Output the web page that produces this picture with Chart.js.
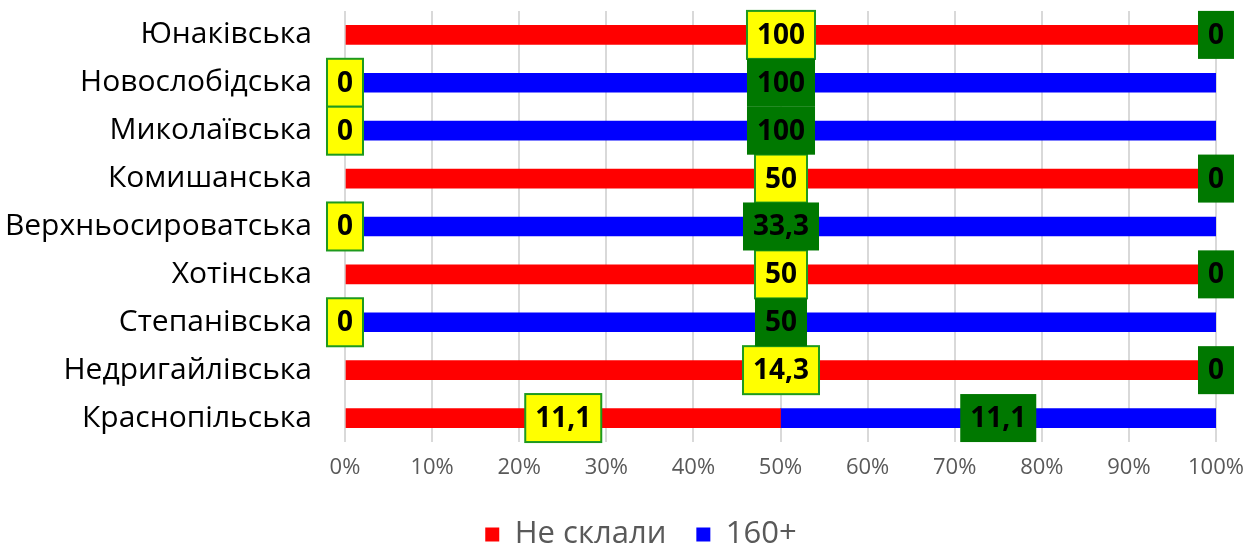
<!DOCTYPE html>
<html>
<head>
<meta charset="utf-8">
<script src="https://cdn.jsdelivr.net/npm/chart.js@4"></script>
<style>
  html, body { margin: 0; padding: 0; background: #fff; }
  #wrap { width: 1248px; height: 546px; }
</style>
</head>
<body>
<div id="wrap"><canvas id="myChart" width="1248" height="546"></canvas></div>
<script>
const categories = ["Юнаківська", "Новослобідська", "Миколаївська", "Комишанська", "Верхньосироватська", "Хотінська", "Степанівська", "Недригайлівська", "Краснопільська"];
const failedValues = [100, 0, 0, 50, 0, 50, 0, 14.3, 11.1];
const topValues = [0, 100, 100, 0, 33.3, 0, 50, 0, 11.1];
const tickLabels = ["0%", "10%", "20%", "30%", "40%", "50%", "60%", "70%", "80%", "90%", "100%"];

// 100% stacked: each row is split by its share of the row total
const share = (arr, i) => {
  const total = failedValues[i] + topValues[i];
  return total ? arr[i] / total * 100 : 0;
};
const rawSeries = [failedValues, topValues];

// value boxes: yellow for "Не склали", green for "160+"
const labelBoxes = {
  id: "labelBoxes",
  afterDatasetsDraw(chart) {
    const ctx = chart.ctx;
    ctx.save();
    ctx.font = "bold 28px 'Open Sans'";
    ctx.textAlign = "center";
    ctx.textBaseline = "middle";
    [0, 1].forEach(d => {
      const meta = chart.getDatasetMeta(d);
      meta.data.forEach((bar, i) => {
        const txt = String(rawSeries[d][i]).replace(".", ",");
        const cx = (bar.x + bar.base) / 2;
        const cy = bar.y;
        const w = ctx.measureText(txt).width + 20;
        const h = 48;
        if (d === 0) {
          ctx.fillStyle = "#ffff00";
          ctx.fillRect(cx - w / 2, cy - h / 2, w, h);
          ctx.strokeStyle = "#1e9a1e";
          ctx.lineWidth = 2;
          ctx.strokeRect(cx - w / 2, cy - h / 2, w, h);
        } else {
          ctx.fillStyle = "#007800";
          ctx.fillRect(cx - w / 2, cy - h / 2, w, h);
        }
        ctx.fillStyle = "#000";
        ctx.fillText(txt, cx, cy + 1);
      });
    });
    ctx.restore();
  }
};

// legend sits a bit right of the canvas centre
const legendShift = {
  id: "legendShift",
  afterLayout(chart) {
    chart.legend.left += 33;
    chart.legend.right += 33;
  }
};

new Chart("myChart", {
  type: "bar",
  data: {
    labels: categories,
    datasets: [{
      label: "Не склали",
      data: failedValues.map((v, i) => share(failedValues, i)),
      backgroundColor: "#ff0000",
      barThickness: 19
    }, {
      label: "160+",
      data: topValues.map((v, i) => share(topValues, i)),
      backgroundColor: "#0000ff",
      barThickness: 19
    }]
  },
  options: {
    indexAxis: "y",
    responsive: false,
    animation: false,
    layout: { padding: { top: 0, right: 32, left: 0, bottom: -14 } },
    plugins: {
      legend: {
        position: "bottom",
        labels: {
          boxWidth: 14,
          boxHeight: 14,
          padding: 30,
          color: "#595959",
          font: { family: "'Open Sans'", size: 31 }
        }
      },
      tooltip: { enabled: false }
    },
    scales: {
      x: {
        stacked: true,
        min: 0,
        max: 100,
        afterFit: s => { s.height = 47; s.paddingRight = 0; s.paddingLeft = 0; },
        grid: { color: "#d9d9d9", lineWidth: 2, drawTicks: false },
        border: { display: false },
        ticks: {
          stepSize: 10,
          padding: 13,
          color: "#595959",
          font: { family: "'Open Sans'", size: 22 },
          callback: (v, i) => tickLabels[i]
        }
      },
      y: {
        stacked: true,
        afterFit: s => { s.width = 345; },
        grid: { display: true, color: "rgba(0,0,0,0)", drawTicks: true, tickLength: 33 },
        border: { display: false },
        ticks: {
          padding: 0,
          color: "#000",
          font: { family: "'Open Sans'", size: 30, lineHeight: 0.73 }
        }
      }
    }
  },
  plugins: [labelBoxes, legendShift]
});
</script>
</body>
</html>
